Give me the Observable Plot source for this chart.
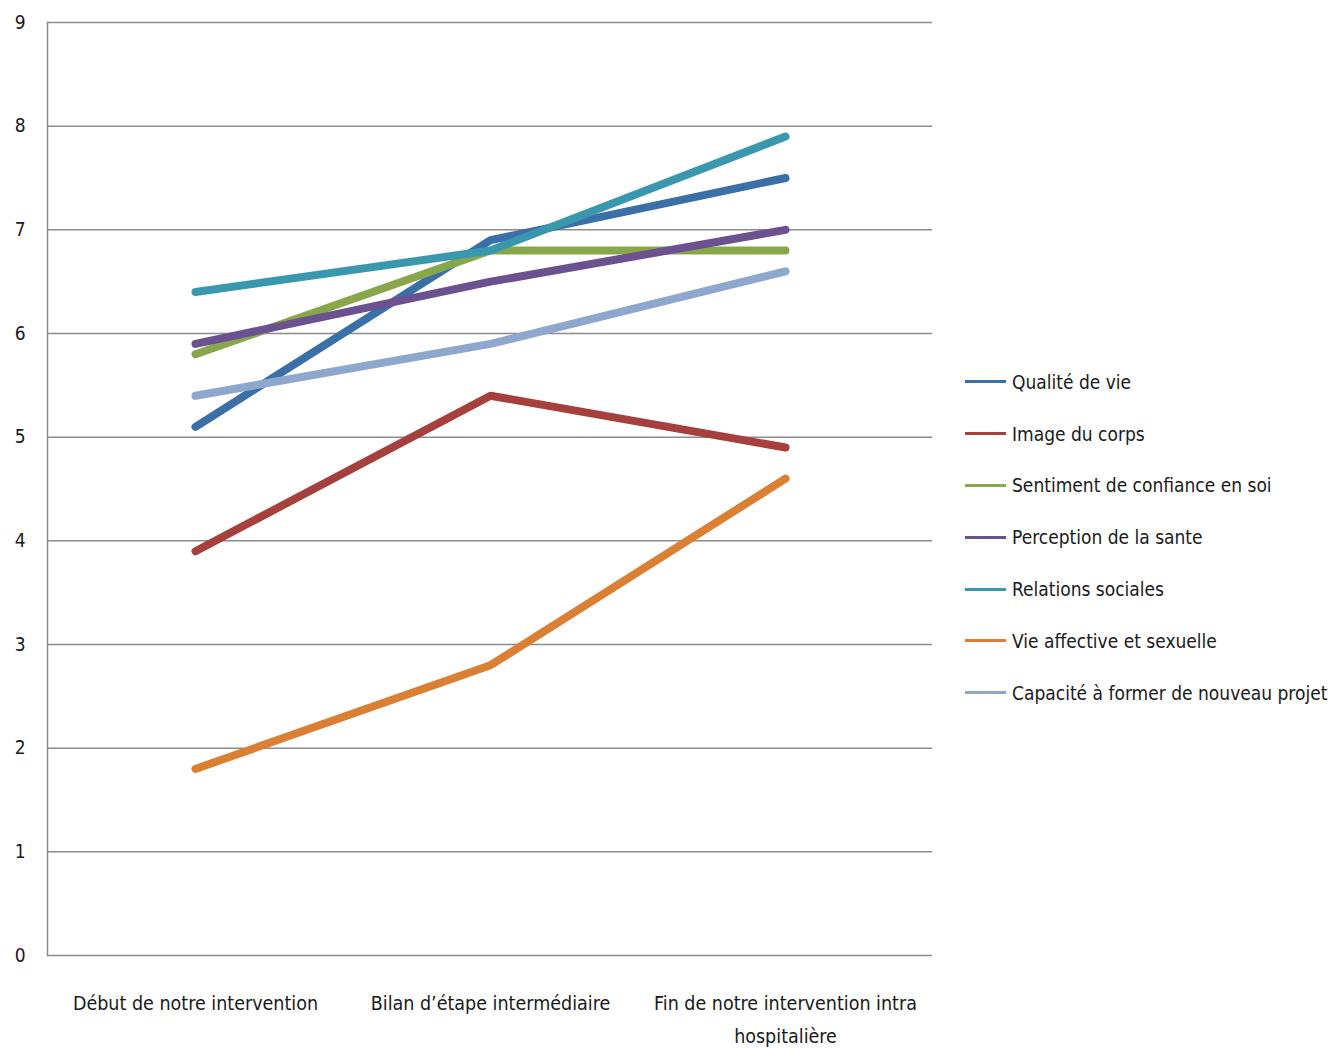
<!DOCTYPE html>
<html>
<head>
<meta charset="utf-8">
<script src="https://cdn.jsdelivr.net/npm/d3@7"></script>
<script src="https://cdn.jsdelivr.net/npm/@observablehq/plot@0.6"></script>
<style>
  html, body { margin: 0; padding: 0; background: #fff; }
  #wrap { position: relative; width: 1337px; height: 1048px; font-family: "Liberation Sans Narrow", "DejaVu Sans Condensed", sans-serif; }
  #legend { position: absolute; left: 965px; top: 356px; }
  .item { display: flex; align-items: center; height: 51.8px; font-size: 19px; color: #1a1a1a; white-space: nowrap; }
  .sw { width: 41px; height: 3px; margin-right: 6px; flex: none; }
</style>
</head>
<body>
<div id="wrap"><div id="chart"></div><div id="legend"></div></div>
<script>
const categories = ["Début de notre intervention", "Bilan d’étape intermédiaire", "Fin de notre intervention intra hospitalière"];
const tickLabels = ["Début de notre intervention", "Bilan d’étape intermédiaire", "Fin de notre intervention intra\nhospitalière"];
const seriesNames = ["Qualité de vie", "Image du corps", "Sentiment de confiance en soi", "Perception de la sante", "Relations sociales", "Vie affective et sexuelle", "Capacité à former de nouveau projet"];
const seriesColors = ["#3A6FA8", "#A5403D", "#88A74A", "#6C5190", "#3998AE", "#DB7F33", "#8EA7CC"];
const qualiteDeVie = [5.1, 6.9, 7.5];
const imageDuCorps = [3.9, 5.4, 4.9];
const confianceEnSoi = [5.8, 6.8, 6.8];
const perceptionSante = [5.9, 6.5, 7.0];
const relationsSociales = [6.4, 6.8, 7.9];
const vieAffective = [1.8, 2.8, 4.6];
const capaciteProjet = [5.4, 5.9, 6.6];
const yTicks = [0, 1, 2, 3, 4, 5, 6, 7, 8, 9];

const seriesValues = [qualiteDeVie, imageDuCorps, confianceEnSoi, perceptionSante, relationsSociales, vieAffective, capaciteProjet];
const data = [];
seriesNames.forEach((s, i) => categories.forEach((c, j) => data.push({series: s, cat: c, value: seriesValues[i][j]})));

const chart = Plot.plot({
  width: 940,
  height: 1048,
  marginLeft: 47,
  marginRight: 8,
  marginTop: 22,
  marginBottom: 93,
  style: {fontFamily: "'Liberation Sans Narrow', 'DejaVu Sans Condensed', sans-serif", color: "#1a1a1a", background: "#fff"},
  x: {type: "point", domain: categories, padding: 0.5},
  y: {domain: [0, 9]},
  color: {domain: seriesNames, range: seriesColors},
  marks: [
    Plot.gridY(yTicks, {stroke: "#8c8c8c", strokeOpacity: 1, strokeWidth: 1.5}),
    Plot.frame({anchor: "left", stroke: "#8c8c8c", strokeWidth: 1.5}),
    Plot.axisY(yTicks, {tickSize: 0, tickPadding: 22, fontSize: 19, label: null, tickFormat: d => String(d)}),
    Plot.axisX({tickSize: 0, tickPadding: 31, fontSize: 19.5, lineHeight: 1.7, label: null,
      tickFormat: d => tickLabels[categories.indexOf(d)]}),
    Plot.line(data, {x: "cat", y: "value", z: "series", stroke: "series", strokeWidth: 8, strokeLinecap: "round", strokeLinejoin: "round"})
  ]
});
document.getElementById("chart").appendChild(chart);

const legend = document.getElementById("legend");
seriesNames.forEach((s, i) => {
  const item = document.createElement("div");
  item.className = "item";
  const sw = document.createElement("div");
  sw.className = "sw";
  sw.style.background = seriesColors[i];
  const t = document.createElement("span");
  t.textContent = s;
  item.appendChild(sw);
  item.appendChild(t);
  legend.appendChild(item);
});
</script>
</body>
</html>
